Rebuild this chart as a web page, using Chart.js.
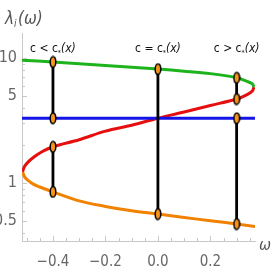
<!DOCTYPE html>
<html>
<head>
<meta charset="utf-8">
<script src="https://cdn.jsdelivr.net/npm/chart.js@4.4.1/dist/chart.umd.min.js"></script>
<style>
html, body { margin: 0; padding: 0; background: #fff; }
</style>
</head>
<body>
<canvas id="chartLine" width="273" height="273"></canvas>
<script>
// curves (omega, lambda)
var greenX = [-0.518, -0.4, -0.2, 0, 0.1, 0.2, 0.3, 0.34, 0.36, 0.366];
var greenY = [9.6, 9.3, 8.7, 8.15, 7.85, 7.5, 6.95, 6.5, 6.2, 5.85];

var blueX = [-0.518, 0.37];
var blueY = [3.3, 3.3];

var redX = [-0.516, -0.508, -0.495, -0.475, -0.45, -0.4, -0.3, -0.2, -0.1, 0, 0.1, 0.2, 0.3, 0.34, 0.36, 0.366];
var redY = [1.23, 1.36, 1.47, 1.6, 1.74, 1.95, 2.22, 2.6, 2.9, 3.3, 3.7, 4.17, 4.7, 5.1, 5.45, 5.85];

var orangeX = [-0.516, -0.508, -0.495, -0.475, -0.45, -0.4, -0.3, -0.2, -0.1, 0, 0.1, 0.2, 0.3, 0.37];
var orangeY = [1.23, 1.12, 1.05, 0.98, 0.93, 0.85, 0.72, 0.65, 0.6, 0.565, 0.53, 0.5, 0.47, 0.45];

// vertical cuts with markers
var segX = [-0.4, -0.4, 0, 0.3, 0.3];
var segTop = [9.3, 1.95, 8.15, 6.95, 3.3];
var segBottom = [3.3, 0.85, 0.565, 4.7, 0.47];

var cutX = [-0.4, 0, 0.3];
var cutSigns = ["<", "=", ">"];

var xTicks = [-0.4, -0.2, 0, 0.2];
var yTicks = [0.5, 1, 5, 10];

var tickFont = '"Liberation Sans Narrow", "DejaVu Sans Condensed", "Liberation Sans", sans-serif';

function pts(xs, ys) {
    var out = [];
    for (var i = 0; i < xs.length; i++) {
        out.push({ x: xs[i], y: ys[i] });
    }
    return out;
}

// ellipse marker
var mark = document.createElement('canvas');
mark.width = 8;
mark.height = 13;
(function () {
    var c = mark.getContext('2d');
    c.beginPath();
    c.ellipse(4, 6.5, 2.8, 5.3, 0, 0, Math.PI * 2);
    c.fillStyle = '#f7941d';
    c.fill();
    c.lineWidth = 1.5;
    c.strokeStyle = '#000';
    c.stroke();
})();

var datasets = [];

// markers + black verticals first so they draw on top
for (var i = 0; i < segX.length; i++) {
    datasets.push({
        data: [{ x: segX[i], y: segTop[i] }, { x: segX[i], y: segBottom[i] }],
        borderColor: '#000',
        borderWidth: 2.8,
        pointStyle: mark,
        pointRadius: 5,
        tension: 0
    });
}

function curve(xs, ys, color) {
    return {
        data: pts(xs, ys),
        borderColor: color,
        borderWidth: 3,
        pointRadius: 0,
        tension: 0.35,
        fill: false
    };
}

datasets.push(curve(greenX, greenY, '#1db31d'));
datasets.push(curve(blueX, blueY, '#1414e8'));
datasets.push(curve(redX, redY, '#e60f0f'));
datasets.push(curve(orangeX, orangeY, '#f08200'));

var extras = {
    id: 'extras',
    afterDraw: function (chart) {
        var ctx = chart.ctx;
        var xs = chart.scales.x;
        var ys = chart.scales.y;
        ctx.save();

        // small inward ticks
        ctx.strokeStyle = '#c8c8c8';
        ctx.lineWidth = 1;
        var b = ys.bottom;
        for (var v = -0.5; v <= 0.36; v += 0.05) {
            var px = Math.round(xs.getPixelForValue(v)) + 0.5;
            var major = Math.abs(v / 0.2 - Math.round(v / 0.2)) < 0.01;
            ctx.beginPath();
            ctx.moveTo(px, b);
            ctx.lineTo(px, b - (major ? 5 : 3));
            ctx.stroke();
        }
        var l = xs.left;
        var minor = [0.4, 0.5, 0.6, 0.7, 0.8, 0.9, 1, 2, 3, 4, 5, 6, 7, 8, 9, 10];
        for (var j = 0; j < minor.length; j++) {
            var py = Math.round(ys.getPixelForValue(minor[j])) + 0.5;
            var big = yTicks.indexOf(minor[j]) >= 0;
            ctx.beginPath();
            ctx.moveTo(l, py);
            ctx.lineTo(l + (big ? 5 : 3), py);
            ctx.stroke();
        }

        // cut labels
        ctx.fillStyle = '#111';
        ctx.textBaseline = 'alphabetic';
        for (var k = 0; k < cutX.length; k++) {
            var cx = xs.getPixelForValue(cutX[k]);
            var a = 'c ' + cutSigns[k] + ' c';
            ctx.font = '12px ' + tickFont;
            var w1 = ctx.measureText(a).width;
            ctx.font = 'italic 12px ' + tickFont;
            var w3 = ctx.measureText('(x)').width;
            ctx.font = '7px ' + tickFont;
            var w2 = ctx.measureText('*').width;
            var x0 = cx - (w1 + w2 + w3) / 2;
            ctx.font = '12px ' + tickFont;
            ctx.fillText(a, x0, 52);
            ctx.font = '7px ' + tickFont;
            ctx.fillText('*', x0 + w1, 55);
            ctx.font = 'italic 12px ' + tickFont;
            ctx.fillText('(x)', x0 + w1 + w2, 52);
        }

        // axis titles
        ctx.fillStyle = '#555';
        ctx.font = 'italic 17px ' + tickFont;
        ctx.fillText('\u03bb', 5, 24);
        var lw = ctx.measureText('\u03bb').width;
        ctx.font = 'italic 10px ' + tickFont;
        ctx.fillText('i', 5 + lw, 27);
        ctx.font = 'italic 17px ' + tickFont;
        ctx.fillText('(\u03c9)', 5 + lw + 4, 24);
        ctx.font = 'italic 16px ' + tickFont;
        ctx.fillText('\u03c9', 259, 250);
        ctx.restore();
    }
};

var ctx = document.getElementById('chartLine').getContext('2d');
var myChart = new Chart(ctx, {
    type: 'line',
    data: { datasets: datasets },
    options: {
        responsive: false,
        animation: false,
        devicePixelRatio: 1,
        layout: { padding: { top: 33, right: 18, left: 0, bottom: 0 } },
        plugins: {
            legend: { display: false },
            tooltip: { enabled: false }
        },
        scales: {
            x: {
                type: 'linear',
                min: -0.518,
                max: 0.37,
                bounds: 'data',
                afterBuildTicks: function (scale) {
                    scale.ticks = xTicks.map(function (v) { return { value: v }; });
                },
                afterFit: function (scale) { scale.height = 32; },
                grid: { display: false, drawTicks: false },
                border: { display: true, color: '#c8c8c8', width: 1 },
                ticks: {
                    color: '#666',
                    padding: 12,
                    autoSkip: false,
                    maxRotation: 0,
                    font: { size: 15, family: tickFont },
                    callback: function (v) {
                        return (v < 0 ? '\u2212' : '') + Math.abs(v).toFixed(1);
                    }
                }
            },
            y: {
                type: 'logarithmic',
                min: 0.344,
                max: 15.85,
                bounds: 'data',
                afterBuildTicks: function (scale) {
                    scale.ticks = yTicks.map(function (v) { return { value: v }; });
                },
                afterFit: function (scale) { scale.width = 22; },
                grid: { display: false, drawTicks: false },
                border: { display: true, color: '#c8c8c8', width: 1 },
                ticks: {
                    color: '#666',
                    padding: 5,
                    autoSkip: false,
                    font: { size: 16, family: tickFont },
                    callback: function (v) { return String(v); }
                }
            }
        }
    },
    plugins: [extras]
});
</script>
</body>
</html>
